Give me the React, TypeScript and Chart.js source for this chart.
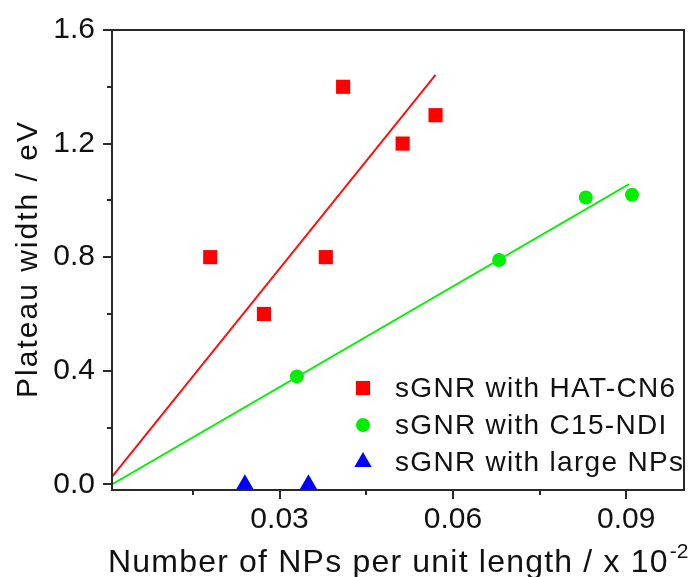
import React, { useEffect, useRef } from 'react';
import { Chart, registerables } from 'chart.js';

Chart.register(...registerables);

// ---- data ----
const hatX = [0.018, 0.0273, 0.038, 0.041, 0.0513, 0.057];
const hatY = [0.8, 0.6, 0.8, 1.4, 1.2, 1.3];
const ndiX = [0.033, 0.068, 0.083, 0.091];
const ndiY = [0.38, 0.79, 1.01, 1.02];
const largeX = [0.024, 0.035];
const largeY = [0, 0];
const hatFitX = [0.001, 0.057];
const hatFitY = [0.026, 1.442];
const ndiFitX = [0.001, 0.0905];
const ndiFitY = [0.0, 1.057];
const seriesLabels = ['sGNR with HAT-CN6', 'sGNR with C15-NDI', 'sGNR with large NPs'];
const xMajorTicks = [0.03, 0.06, 0.09];
const xMinorTicks = [0.015, 0.045, 0.075];
const yMajorTicks = [0, 0.4, 0.8, 1.2, 1.6];
const yMinorTicks = [0.2, 0.6, 1.0, 1.4];
const xTitle = 'Number of NPs per unit length / x 10';
const xTitleExp = '-2';
const yTitle = 'Plateau width / eV';

const FONT = '"Liberation Sans", Arial, sans-serif';
const TEXT = '#111';
const AXIS = '#2a2a2a';

const toPts = (xs: number[], ys: number[]) => xs.map((x, i) => ({ x, y: ys[i] }));

function drawMarker(ctx: CanvasRenderingContext2D, style: string, x: number, y: number, r: number, color: string) {
  ctx.save();
  ctx.fillStyle = color;
  ctx.beginPath();
  if (style === 'rect') {
    const s = r * Math.SQRT1_2;
    ctx.rect(x - s, y - s, 2 * s, 2 * s);
  } else if (style === 'circle') {
    ctx.arc(x, y, r, 0, Math.PI * 2);
  } else {
    ctx.moveTo(x, y - r);
    ctx.lineTo(x + 0.866 * r, y + 0.5 * r);
    ctx.lineTo(x - 0.866 * r, y + 0.5 * r);
    ctx.closePath();
  }
  ctx.fill();
  ctx.restore();
}

const decorPlugin = {
  id: 'decor',
  afterDatasetsDraw(chart: any) {
    const { ctx, chartArea } = chart;
    const xs = chart.scales.x;
    const ys = chart.scales.y;
    const { left, right, top, bottom } = chartArea;
    ctx.save();
    // frame
    ctx.strokeStyle = AXIS;
    ctx.lineWidth = 2;
    ctx.strokeRect(left, top, right - left, bottom - top);
    // tick marks
    ctx.beginPath();
    xMajorTicks.forEach((v) => {
      const p = Math.round(xs.getPixelForValue(v));
      ctx.moveTo(p, bottom);
      ctx.lineTo(p, bottom + 9);
    });
    xMinorTicks.forEach((v) => {
      const p = Math.round(xs.getPixelForValue(v));
      ctx.moveTo(p, bottom);
      ctx.lineTo(p, bottom + 5);
    });
    yMajorTicks.forEach((v) => {
      const p = Math.round(ys.getPixelForValue(v));
      ctx.moveTo(left, p);
      ctx.lineTo(left - 9, p);
    });
    yMinorTicks.forEach((v) => {
      const p = Math.round(ys.getPixelForValue(v));
      ctx.moveTo(left, p);
      ctx.lineTo(left - 5, p);
    });
    ctx.stroke();

    // legend
    const legendItems = [0, 1, 2];
    ctx.font = `28px ${FONT}`;
    (ctx as any).letterSpacing = '1.3px';
    ctx.fillStyle = TEXT;
    ctx.textBaseline = 'alphabetic';
    ctx.textAlign = 'left';
    legendItems.forEach((i) => {
      const ds = chart.data.datasets[i];
      const cy = 388 + i * 37;
      drawMarker(ctx, ds.pointStyle, 363, cy, ds.pointRadius, ds.backgroundColor);
      ctx.fillStyle = TEXT;
      ctx.fillText(ds.label, 395, cy + 9);
    });

    // x title
    ctx.font = `32px ${FONT}`;
    (ctx as any).letterSpacing = '1.2px';
    ctx.fillText(xTitle, 108, 572);
    const w = ctx.measureText(xTitle).width;
    ctx.font = `21px ${FONT}`;
    (ctx as any).letterSpacing = '0px';
    ctx.fillText(xTitleExp, 108 + w + 1, 558);

    // y title
    ctx.font = `30px ${FONT}`;
    (ctx as any).letterSpacing = '2px';
    ctx.translate(37, 259);
    ctx.rotate(-Math.PI / 2);
    ctx.textAlign = 'center';
    ctx.fillText(yTitle, 0, 0);
    (ctx as any).letterSpacing = '0px';
    ctx.restore();
  },
};

export default function App() {
  const ref = useRef<HTMLCanvasElement | null>(null);
  useEffect(() => {
    if (!ref.current) return;
    const chart = new Chart(ref.current, {
      type: 'scatter',
      data: {
        datasets: [
          {
            label: seriesLabels[0],
            data: toPts(hatX, hatY),
            pointStyle: 'rect',
            pointRadius: 10,
            backgroundColor: '#ff0000',
            borderWidth: 0,
            order: 1,
          },
          {
            label: seriesLabels[1],
            data: toPts(ndiX, ndiY),
            pointStyle: 'circle',
            pointRadius: 7,
            backgroundColor: '#00ee00',
            borderWidth: 0,
            order: 1,
          },
          {
            label: seriesLabels[2],
            data: toPts(largeX, largeY),
            pointStyle: 'triangle',
            pointRadius: 10,
            backgroundColor: '#0000ff',
            borderWidth: 0,
            order: 1,
          },
          {
            label: 'fit HAT-CN6',
            data: toPts(hatFitX, hatFitY),
            showLine: true,
            pointRadius: 0,
            borderColor: '#ff1010',
            borderWidth: 2,
            order: 0,
          },
          {
            label: 'fit C15-NDI',
            data: toPts(ndiFitX, ndiFitY),
            showLine: true,
            pointRadius: 0,
            borderColor: '#10ee10',
            borderWidth: 2,
            order: 0,
          },
        ],
      },
      options: {
        animation: false,
        responsive: false,
        maintainAspectRatio: false,
        layout: { padding: { left: 0, right: 6, top: 30, bottom: 0 } },
        plugins: {
          legend: { display: false },
          tooltip: { enabled: false },
          title: { display: false },
        },
        scales: {
          x: {
            type: 'linear',
            min: 0.001,
            max: 0.1,
            grid: { display: false, drawTicks: false },
            border: { display: false },
            afterBuildTicks: (s: any) => {
              s.ticks = xMajorTicks.map((v) => ({ value: v }));
            },
            afterFit: (s: any) => {
              s.height = 87;
              s.paddingLeft = 0;
              s.paddingRight = 0;
            },
            ticks: {
              padding: 12,
              color: TEXT,
              font: { family: FONT, size: 30 },
              callback: (v: any) => Number(v).toFixed(2),
            },
          },
          y: {
            type: 'linear',
            min: -0.02,
            max: 1.6,
            grid: { display: false, drawTicks: false },
            border: { display: false },
            afterBuildTicks: (s: any) => {
              s.ticks = yMajorTicks.map((v) => ({ value: v }));
            },
            afterFit: (s: any) => {
              s.width = 112;
              s.paddingTop = 0;
              s.paddingBottom = 0;
            },
            ticks: {
              padding: 17,
              color: TEXT,
              font: { family: FONT, size: 30 },
              callback: (v: any) => Number(v).toFixed(1),
            },
          },
        },
      },
      plugins: [decorPlugin],
    });
    return () => chart.destroy();
  }, []);
  return (
    <div style={{ position: 'absolute', left: 0, top: 0, width: 694, height: 577, background: '#fff' }}>
      <canvas ref={ref} width={694} height={577} style={{ display: 'block', width: 694, height: 577 }} />
    </div>
  );
}
